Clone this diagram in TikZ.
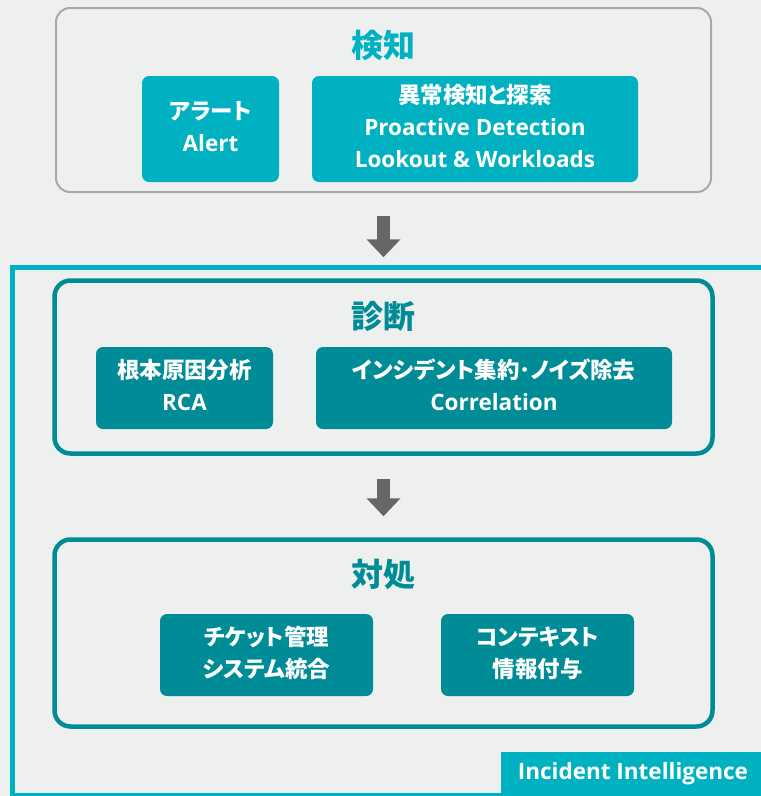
\documentclass[tikz,border=0pt]{standalone}
\usepackage{fontspec}
\setmainfont{Open Sans}
\newfontfamily\cjk{Noto Sans CJK JP}[RawFeature=+palt]
\usetikzlibrary{arrows.meta}

\definecolor{bgcol}{RGB}{238,240,239}
\definecolor{lteal}{RGB}{0,178,193}
\definecolor{dteal}{RGB}{0,140,150}
\definecolor{edgegray}{RGB}{168,168,168}
\definecolor{arrowgray}{RGB}{102,102,102}

\begin{document}
\begin{tikzpicture}[x=1pt,y=-1pt,
  stage/.style={draw, rounded corners=14pt, inner sep=0pt},
  item/.style={rounded corners=7pt, text=white, align=center, inner sep=0pt, text depth=6pt,
    font=\fontsize{22.5}{32}\selectfont\bfseries},
  head/.style={font=\cjk\fontsize{32}{36}\selectfont\bfseries},
  bigarrow/.style={arrowgray, line width=13pt, -{Triangle[width=33pt,length=18pt]},
    shorten <=23pt, shorten >=21pt}]

\useasboundingbox (0,0) rectangle (761,796);
\fill [bgcol] (0,0) rectangle (761,796);
\clip (0,0) rectangle (761,796);

% Incident Intelligence frame
\coordinate (frameNW) at (12.5,267);
\coordinate (frameSE) at (780,795.5);
\draw [lteal, line width=5pt] (frameNW) rectangle (frameSE);
\node (ii) [fill=lteal, text=white, minimum width=264pt, minimum height=44pt, inner sep=0pt,
  font=\fontsize{22.5}{26}\selectfont\bfseries] at (633,774) {Incident Intelligence};

% stages
\node (detectbox) [stage, edgegray, line width=2pt, fill=bgcol, minimum width=655pt, minimum height=184pt] at (383.5,100) {};
\node (diagbox) [stage, dteal, line width=4.5pt, rounded corners=16pt, minimum width=658pt, minimum height=173pt] at (383.5,367) {};
\node (actbox) [stage, dteal, line width=4.5pt, rounded corners=16pt, minimum width=658pt, minimum height=187pt] at (383.5,633) {};

\node (detect) [head, text=lteal] at (383.5,45) {検知};
\node (diag) [head, text=dteal] at (383.5,316) {診断};
\node (act) [head, text=dteal] at (383.5,574) {対処};

% items
\node (alert) [item, fill=lteal, minimum width=137pt, minimum height=106pt] at (210.5,129)
  {{\cjk アラート}\\Alert};
\node (proact) [item, fill=lteal, minimum width=326pt, minimum height=106pt] at (475,129)
  {{\cjk 異常検知と探索}\\Proactive Detection\\Lookout \& Workloads};
\node (rca) [item, fill=dteal, minimum width=177pt, minimum height=82pt] at (184.5,388)
  {{\cjk 根本原因分析}\\RCA};
\node (corr) [item, fill=dteal, minimum width=356pt, minimum height=82pt] at (494,388)
  {{\cjk インシデント集約･ノイズ除去}\\Correlation};
\node (ticket) [item, fill=dteal, minimum width=213pt, minimum height=82pt, font=\cjk\fontsize{22.5}{32}\selectfont\bfseries] at (266.5,655)
  {チケット管理\\システム統合};
\node (context) [item, fill=dteal, minimum width=193pt, minimum height=82pt, font=\cjk\fontsize{22.5}{32}\selectfont\bfseries] at (537.5,655)
  {コンテキスト\\情報付与};

% flow
\foreach \a/\b in {detectbox/diagbox, diagbox/actbox}
  \draw [bigarrow] (\a.south) -- (\b.north);

\end{tikzpicture}
\end{document}
